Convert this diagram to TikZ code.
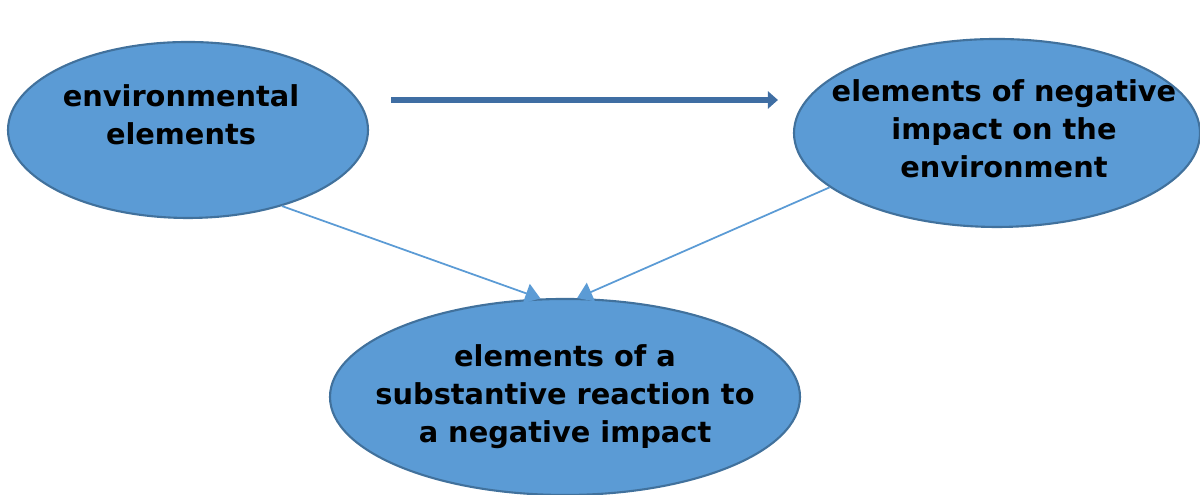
\documentclass[tikz,border=0pt]{standalone}
\usepackage{fontspec}
\setmainfont{DejaVu Sans}
\usepackage{xcolor}
\usepackage{tikz}
\usetikzlibrary{shapes.geometric, arrows.meta}
\definecolor{ovalblue}{HTML}{5B9BD5}
\definecolor{ovalline}{HTML}{41719C}
\definecolor{mainline}{HTML}{3F6EA3}
% text of an oval: #1 = sideways shift, #2 = lift, #3 = lines
\newcommand{\ovaltext}[3]{\raisebox{#2}[0pt][0pt]{\makebox[0pt]{\hspace*{#1}\begin{tabular}{@{}c@{}}#3\end{tabular}}}}
\tikzstyle{oval} = [ellipse,
    inner sep=0pt,
    font=\bfseries\fontsize{8.2}{10.9}\selectfont,
    draw=ovalline,
    line width=0.6pt,
    fill=ovalblue]
\tikzstyle{thinarrow} = [draw=ovalblue, line width=0.5pt,
    -{Triangle[width=0.2cm,length=0.15cm]}]
\tikzstyle{mainarrow} = [draw=mainline, line width=1.8pt,
    -{Triangle[width=0.17cm,length=0.1cm]}]

\begin{document}
\begin{tikzpicture}
        \useasboundingbox (0,0) rectangle (12,4.95);

        \node (env_elements) [oval, minimum width=3.6cm, minimum height=1.76cm] at (1.88,3.65)
        {\ovaltext{-0.14cm}{0.05cm}{environmental\\elements}};
        \node (negative_impact) [oval, minimum width=4.06cm, minimum height=1.88cm] at (9.97,3.62)
        {\ovaltext{0.14cm}{-0.06cm}{elements of negative\\impact on the\\environment}};
        \node (reaction) [oval, minimum width=4.7cm, minimum height=1.96cm] at (5.65,0.98)
        {\ovaltext{0cm}{-0.07cm}{elements of a\\substantive reaction to\\a negative impact}};

        \draw [mainarrow, shorten <=0.22cm, shorten >=0.15cm]
            ([yshift=0.3cm]env_elements.east) -- ([yshift=0.33cm]negative_impact.west);
        \draw [thinarrow] (env_elements.-39) -- (reaction.104);
        \draw [thinarrow] (negative_impact.-162) -- (reaction.83);
    \end{tikzpicture}
\end{document}
